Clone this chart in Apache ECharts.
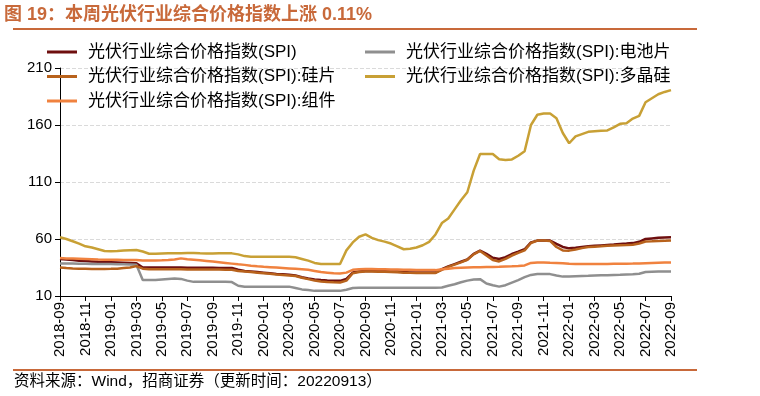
<!DOCTYPE html>
<html><head><meta charset="utf-8">
<script src="https://cdn.jsdelivr.net/npm/echarts@6/dist/echarts.min.js"></script>
<style>html,body{margin:0;padding:0;background:#fff}#c{width:760px;height:396px}</style>
</head><body><div id="c"></div>
<script>
const titleText = '图 19：本周光伏行业综合价格指数上涨 0.11%';
const sourceText = '资料来源：Wind，招商证券（更新时间：20220913）';
const seriesNames = ['光伏行业综合价格指数(SPI)', '光伏行业综合价格指数(SPI):电池片', '光伏行业综合价格指数(SPI):硅片', '光伏行业综合价格指数(SPI):多晶硅', '光伏行业综合价格指数(SPI):组件'];
const categories = [
 '2018-09-01','2018-09-16','2018-10-01','2018-10-16','2018-11-01','2018-11-16','2018-12-01','2018-12-16',
 '2019-01-01','2019-01-16','2019-02-01','2019-02-16','2019-03-01','2019-03-16','2019-04-01','2019-04-16',
 '2019-05-01','2019-05-16','2019-06-01','2019-06-16','2019-07-01','2019-07-16','2019-08-01','2019-08-16',
 '2019-09-01','2019-09-16','2019-10-01','2019-10-16','2019-11-01','2019-11-16','2019-12-01','2019-12-16',
 '2020-01-01','2020-01-16','2020-02-01','2020-02-16','2020-03-01','2020-03-16','2020-04-01','2020-04-16',
 '2020-05-01','2020-05-16','2020-06-01','2020-06-16','2020-07-01','2020-07-16','2020-08-01','2020-08-16',
 '2020-09-01','2020-09-16','2020-10-01','2020-10-16','2020-11-01','2020-11-16','2020-12-01','2020-12-16',
 '2021-01-01','2021-01-16','2021-02-01','2021-02-16','2021-03-01','2021-03-16','2021-04-01','2021-04-16',
 '2021-05-01','2021-05-16','2021-06-01','2021-06-16','2021-07-01','2021-07-16','2021-08-01','2021-08-16',
 '2021-09-01','2021-09-16','2021-10-01','2021-10-16','2021-11-01','2021-11-16','2021-12-01','2021-12-16',
 '2022-01-01','2022-01-16','2022-02-01','2022-02-16','2022-03-01','2022-03-16','2022-04-01','2022-04-16',
 '2022-05-01','2022-05-16','2022-06-01','2022-06-16','2022-07-01','2022-07-16','2022-08-01','2022-08-16',
 '2022-09-01'
];
const spi = [
 42.5, 42, 41.5, 41, 40.6, 40.3, 40, 39.8,
 39.6, 39.4, 39.2, 39, 38.8, 35, 35, 35,
 35, 35, 35, 35, 34.8, 34.8, 34.8, 34.8,
 34.7, 34.6, 34.5, 34.5, 33, 32, 31.5, 31,
 30.5, 30, 29.2, 29, 28.6, 28, 26.5, 25.3,
 24.5, 24, 23.6, 23.4, 23.3, 25, 30.6, 31.5,
 32, 32.1, 32, 31.8, 31.6, 31.5, 31, 30.6,
 30.6, 30.6, 30.6, 30.6, 33.5, 36, 38, 40,
 42, 47, 49.8, 47, 43.5, 42.4, 44, 46.8,
 48.8, 51, 57, 58.6, 58.6, 58.6, 55.7, 53,
 51.8, 52.3, 53, 53.6, 54, 54.4, 54.8, 55.2,
 55.7, 56, 56.4, 57.5, 60, 60.5, 61, 61.3,
 61.5
];
const cell = [
 38.6, 38.5, 38.4, 38.3, 38.2, 38.1, 38, 38,
 38, 37.9, 37.8, 37.7, 37.5, 24, 24, 24,
 24.5, 25, 25.3, 25, 23.5, 22.4, 22.4, 22.4,
 22.4, 22.4, 22.4, 22.2, 19, 18.2, 18.2, 18.2,
 18.2, 18.2, 18.2, 18.2, 18.2, 17, 15.8, 15.3,
 14.5, 14.5, 14.5, 14.5, 14.5, 15.5, 17, 17.2,
 17.2, 17.2, 17.2, 17.2, 17.2, 17.2, 17.2, 17.2,
 17.2, 17.2, 17.2, 17.2, 17.5, 19, 20.3, 22,
 23.5, 24.5, 24.8, 21, 19.5, 18.2, 19.5, 21.8,
 24, 26.5, 28.5, 29.2, 29.2, 29.2, 28, 27,
 27, 27.3, 27.5, 27.7, 28, 28.2, 28.3, 28.5,
 28.6, 28.8, 29, 29.5, 31, 31.2, 31.4, 31.5,
 31.5
];
const wafer = [
 35, 34.5, 34.2, 34, 33.8, 33.6, 33.6, 33.7,
 33.8, 34, 34.5, 35, 36.2, 34, 33.5, 33.5,
 33.5, 33.5, 33.4, 33.4, 33.3, 33.3, 33.2, 33.2,
 33.2, 33.2, 33.1, 33, 32, 31.5, 31, 30.5,
 30, 29.5, 28.8, 28.5, 28, 27.5, 26, 24.8,
 23.5, 22.8, 22.3, 22, 21.8, 23.5, 30, 31,
 31.5, 31.5, 31.3, 31.2, 31, 30.8, 30.5, 30.3,
 30.2, 30.2, 30.2, 30.2, 33, 35.5, 37.5, 39.5,
 41.8, 46.5, 49.5, 45.5, 41.5, 40.3, 42.5, 45.5,
 47.8, 50, 56.5, 58.6, 58.6, 58.3, 53, 50,
 49.8, 50.8, 52, 52.9, 53.3, 53.6, 54, 54.3,
 54.5, 54.7, 55, 56, 57.8, 58, 58.3, 58.5,
 58.6
];
const polysilicon = [
 61.5, 60, 58, 56, 53.6, 52.5, 51, 49.5,
 49.2, 49.5, 50, 50.2, 50.4, 49, 47.1, 47,
 47.3, 47.5, 47.5, 47.5, 47.8, 47.8, 47.5, 47.3,
 47.2, 47.4, 47.4, 47.4, 46.5, 45, 44.5, 44.5,
 44.5, 44.5, 44.5, 44.5, 44.5, 44, 42.5, 41,
 39, 38, 38, 38, 38, 50, 57, 62,
 64, 61, 59, 57.7, 56, 53.5, 51, 51.5,
 52.5, 54.5, 57.5, 64, 74, 78, 86, 94,
 101, 120, 134.6, 134.6, 134.5, 130, 129.3, 129.8,
 133, 137, 160, 169, 170, 170, 166, 153,
 144, 150, 152, 154, 154.5, 155, 155.2, 158,
 161, 161.5, 165.6, 168, 180, 183.5, 187, 189,
 190.6
];
const module_ = [
 43.3, 43, 42.8, 42.6, 42.4, 42.2, 42, 41.9,
 41.8, 41.7, 41.6, 41.5, 41.5, 41.2, 41.2, 41.2,
 41.3, 41.5, 42, 43, 42.3, 41.8, 41.3, 40.8,
 40.2, 39.6, 39, 38.4, 37.8, 37.3, 36.5, 36,
 35.6, 35.3, 35, 34.6, 34.2, 33.8, 33.4, 33,
 32, 31, 30.5, 30, 29.7, 30.5, 33, 33.4,
 33.6, 33.6, 33.5, 33.4, 33.3, 33.2, 33, 33,
 32.8, 32.7, 32.7, 32.7, 33.4, 34, 34.5, 34.8,
 35, 35.2, 35.3, 35.4, 35.5, 35.6, 35.8, 36,
 36.3, 36.8, 39, 39.4, 39.3, 39.1, 39, 38.8,
 38.3, 38, 38, 38, 38, 38.1, 38.1, 38.2,
 38.2, 38.3, 38.4, 38.6, 38.8, 39, 39.2, 39.3,
 39.4
];
const colors = ['#6E0F0F', '#8F8F8F', '#B8621C', '#C8A035', '#F0823F'];
const values = [spi, cell, wafer, polysilicon, module_];
const FONT = '"Liberation Sans", "Noto Sans CJK SC", sans-serif';
const ACCENT = '#C8693A';

const chart = echarts.init(document.getElementById('c'));
const legendText = {fontSize: 17, lineHeight: 20, color: '#000', fontFamily: FONT, padding: [0, 0, 0, 6]};
chart.setOption({
  animation: false,
  title: {text: titleText, left: 4, top: 6, padding: 0,
    textStyle: {color: ACCENT, fontSize: 18, fontWeight: 'bold', fontFamily: FONT}},
  legend: [
    {orient: 'vertical', left: 47, top: 42, padding: 0, itemWidth: 30, itemHeight: 3, itemGap: 4.5, icon: 'rect',
     data: [seriesNames[0], seriesNames[2], seriesNames[4]], textStyle: legendText},
    {orient: 'vertical', left: 365, top: 42, padding: 0, itemWidth: 30, itemHeight: 3, itemGap: 4.5, icon: 'rect',
     data: [seriesNames[1], seriesNames[3]], textStyle: legendText}
  ],
  grid: {left: 60, right: 89, top: 68, bottom: 100},
  xAxis: {
    type: 'category', data: categories, boundaryGap: false,
    axisLine: {lineStyle: {color: '#000', width: 1}},
    axisTick: {interval: 3, length: 5, lineStyle: {color: '#000'}},
    axisLabel: {interval: 3, rotate: 90, fontSize: 15, color: '#000', fontFamily: FONT, margin: 6,
      formatter: v => v.slice(0, 7)}
  },
  yAxis: {
    type: 'value', min: 10, max: 210, interval: 50,
    axisLine: {show: true, lineStyle: {color: '#000'}},
    axisTick: {show: true, length: 5, lineStyle: {color: '#000'}},
    axisLabel: {fontSize: 15, color: '#000', fontFamily: FONT, margin: 8},
    splitLine: {lineStyle: {type: 'dashed', color: '#DADADA'}}
  },
  series: seriesNames.map((n, i) => ({
    name: n, type: 'line', data: values[i], showSymbol: false, symbol: 'none',
    lineStyle: {width: 2.5, color: colors[i]}, itemStyle: {color: colors[i]}
  })),
  graphic: [
    {type: 'line', shape: {x1: 13, y1: 29, x2: 697, y2: 29}, style: {stroke: ACCENT, lineWidth: 2}},
    {type: 'line', shape: {x1: 13, y1: 370, x2: 697, y2: 370}, style: {stroke: ACCENT, lineWidth: 2}},
    {type: 'text', left: 14, top: 374, style: {text: sourceText, fontSize: 15.5, fill: '#000', fontFamily: FONT}}
  ]
});
</script></body></html>
